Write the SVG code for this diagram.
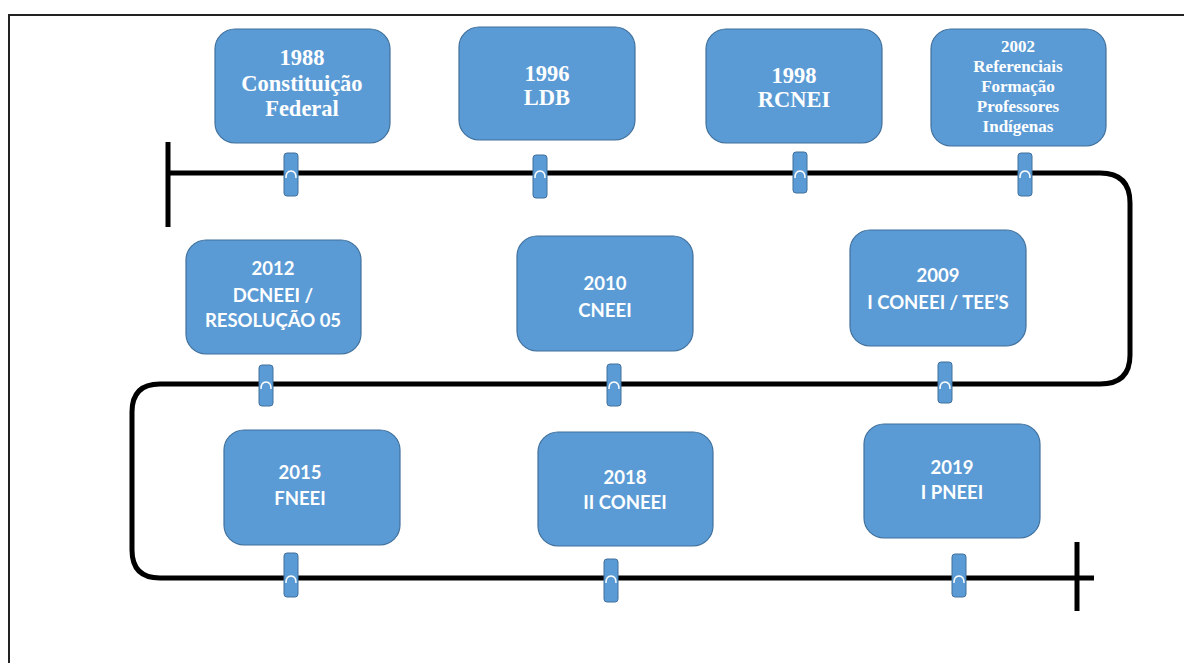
<svg xmlns="http://www.w3.org/2000/svg" width="1184" height="663" viewBox="0 0 1184 663">
<style>
.box{fill:#5B9BD5;stroke:#41719C;stroke-width:1.2}
.mk{fill:#5B9BD5;stroke:#41719C;stroke-width:1}
.arc{fill:none;stroke:#ffffff;stroke-width:1.4}
.tl{fill:none;stroke:#000;stroke-width:5;stroke-linecap:butt}
.s{font-family:"Liberation Serif",serif;font-weight:bold;fill:#fff;text-anchor:middle;font-size:22.5px}
.s2{font-family:"Liberation Serif",serif;font-weight:bold;fill:#fff;text-anchor:middle;font-size:17px}
.c{font-family:Lato,"Liberation Sans",sans-serif;font-weight:bold;fill:#fff;text-anchor:middle;font-size:18.5px}
</style>
<rect x="0" y="0" width="1184" height="663" fill="#fff"/>
<rect x="9" y="15" width="1200" height="700" fill="none" stroke="#222" stroke-width="2"/>
<g id="connectors">
<path class="tl" d="M168,173 H1100 Q1130,173 1130,203 V355 Q1130,384 1100,384 H160 Q132,384 132,412 V550 Q132,578 160,578 H1094"/>
<line class="tl" x1="168" y1="142" x2="168" y2="227"/>
<line class="tl" x1="1077" y1="542" x2="1077" y2="611"/>
</g>
<g id="n1988">
<rect class="box" x="215" y="29" width="175" height="114" rx="20"/>
<text class="s" x="302" y="65">1988</text>
<text class="s" x="302" y="91">Constituição</text>
<text class="s" x="302" y="116">Federal</text>
<rect class="mk" x="284" y="153" width="14" height="43" rx="3"/><path class="arc" d="M286,178 Q286,171 291,171 Q296,171 296,178"/>
</g>
<g id="n1996">
<rect class="box" x="459" y="27" width="176" height="113" rx="20"/>
<text class="s" x="547" y="81">1996</text>
<text class="s" x="547" y="105">LDB</text>
<rect class="mk" x="533" y="155" width="14" height="43" rx="3"/><path class="arc" d="M535,178 Q535,171 540,171 Q545,171 545,178"/>
</g>
<g id="n1998">
<rect class="box" x="706" y="29" width="176" height="114" rx="20"/>
<text class="s" x="794" y="83">1998</text>
<text class="s" x="794" y="107">RCNEI</text>
<rect class="mk" x="793" y="152" width="14" height="41" rx="3"/><path class="arc" d="M795,178 Q795,171 800,171 Q805,171 805,178"/>
</g>
<g id="n2002">
<rect class="box" x="931" y="29" width="175" height="117" rx="20"/>
<text class="s2" x="1018" y="52">2002</text>
<text class="s2" x="1018" y="72">Referenciais</text>
<text class="s2" x="1018" y="92">Formação</text>
<text class="s2" x="1018" y="112">Professores</text>
<text class="s2" x="1018" y="132">Indígenas</text>
<rect class="mk" x="1018" y="153" width="14" height="43" rx="3"/><path class="arc" d="M1020,178 Q1020,171 1025,171 Q1030,171 1030,178"/>
</g>
<g id="n2012">
<rect class="box" x="186" y="240" width="175" height="114" rx="20"/>
<text class="c" x="273" y="275">2012</text>
<text class="c" x="273" y="302">DCNEEI /</text>
<text class="c" x="273" y="327">RESOLUÇÃO 05</text>
<rect class="mk" x="259" y="365" width="14" height="41" rx="3"/><path class="arc" d="M261,389 Q261,382 266,382 Q271,382 271,389"/>
</g>
<g id="n2010">
<rect class="box" x="517" y="236" width="176" height="115" rx="20"/>
<text class="c" x="605" y="290">2010</text>
<text class="c" x="605" y="317">CNEEI</text>
<rect class="mk" x="607" y="364" width="14" height="42" rx="3"/><path class="arc" d="M609,389 Q609,382 614,382 Q619,382 619,389"/>
</g>
<g id="n2009">
<rect class="box" x="850" y="230" width="176" height="116" rx="20"/>
<text class="c" x="938" y="282">2009</text>
<text class="c" x="938" y="309">I CONEEI / TEE’S</text>
<rect class="mk" x="938" y="362" width="14" height="41" rx="3"/><path class="arc" d="M940,389 Q940,382 945,382 Q950,382 950,389"/>
</g>
<g id="n2015">
<rect class="box" x="224" y="430" width="176" height="115" rx="20"/>
<text class="c" x="300" y="479">2015</text>
<text class="c" x="300" y="505">FNEEI</text>
<rect class="mk" x="284" y="553" width="14" height="44" rx="3"/><path class="arc" d="M286,583 Q286,576 291,576 Q296,576 296,583"/>
</g>
<g id="n2018">
<rect class="box" x="538" y="432" width="175" height="114" rx="20"/>
<text class="c" x="625" y="484">2018</text>
<text class="c" x="625" y="509">II CONEEI</text>
<rect class="mk" x="604" y="559" width="14" height="43" rx="3"/><path class="arc" d="M606,583 Q606,576 611,576 Q616,576 616,583"/>
</g>
<g id="n2019">
<rect class="box" x="864" y="424" width="176" height="114" rx="20"/>
<text class="c" x="952" y="474">2019</text>
<text class="c" x="952" y="499">I PNEEI</text>
<rect class="mk" x="952" y="554" width="14" height="43" rx="3"/><path class="arc" d="M954,583 Q954,576 959,576 Q964,576 964,583"/>
</g>
</svg>
